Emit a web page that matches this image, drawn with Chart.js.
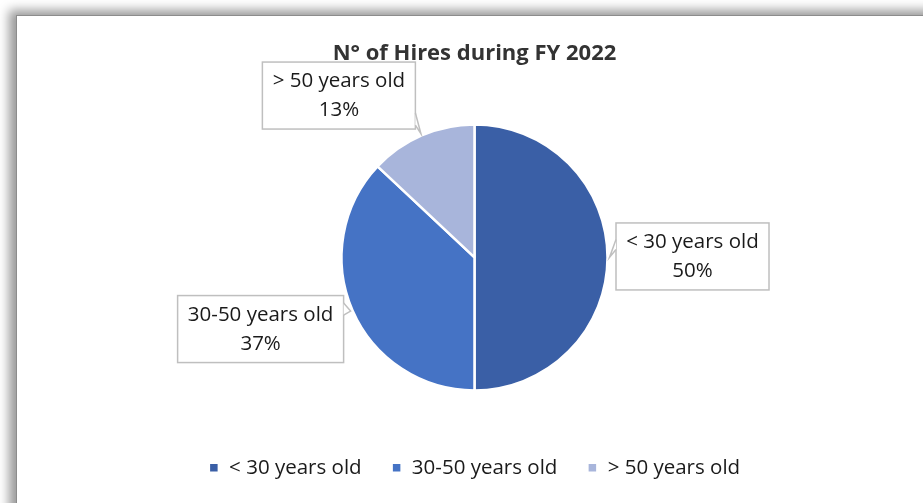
<!DOCTYPE html>
<html>
<head>
<meta charset="utf-8">
<script src="https://cdn.jsdelivr.net/npm/chart.js@4"></script>
<style>
    html, body { margin: 0; padding: 0; background: #ffffff; overflow: hidden; }
    #frame {
        position: absolute; left: 16px; top: 15px; width: 940px; height: 520px;
        background: #ffffff;
        border-left: 1px solid #8c8c8c; border-top: 1px solid #8c8c8c;
        box-shadow: -7px -5px 10px rgba(0,0,0,0.4);
    }
    #wrap { position: absolute; left: 0; top: 0; width: 923px; height: 503px; }
</style>
</head>
<body>
<div id="frame"></div>
<div id="wrap"><canvas id="hires-pie"></canvas></div>
<script>
// Data
const categories = ['< 30 years old', '30-50 years old', '> 50 years old'];
const shares = [50, 37, 13];
const sliceColors = ['#3A5FA6', '#4573C5', '#A8B5DB'];

// callout box centres, relative to the point where each slice meets its label
const calloutOffsets = [[83, -1], [-90, 18], [-82, -38]];
const calloutHeight = 67;

const fontFamily = "'Open Sans', 'Noto Sans', sans-serif";

// Draws the boxed data labels with a small pointer back to the slice
const calloutPlugin = {
    id: 'callouts',
    afterDatasetsDraw(chart) {
        const ctx = chart.ctx;
        const meta = chart.getDatasetMeta(0);
        const total = shares.reduce((a, b) => a + b, 0);

        meta.data.forEach((arc, i) => {
            const mid = (arc.startAngle + arc.endAngle) / 2;
            const tipX = arc.x + Math.cos(mid) * (arc.outerRadius + 2);
            const tipY = arc.y + Math.sin(mid) * (arc.outerRadius + 2);
            const cx = tipX + calloutOffsets[i][0];
            const cy = tipY + calloutOffsets[i][1];

            ctx.save();
            ctx.font = '20.5px ' + fontFamily;
            const w = Math.round(ctx.measureText(categories[i]).width + 20);
            const h = calloutHeight;
            const left = cx - w / 2, top = cy - h / 2;

            // pick the box edge that faces the tip
            let base;
            if (tipX < left) {
                const y0 = Math.min(Math.max(tipY - 18, top + 4), top + h - 16);
                base = [[left, y0], [left, y0 + 10]];
            } else if (tipX > left + w) {
                const y0 = Math.min(Math.max(tipY - 8, top + 4), top + h - 16);
                base = [[left + w, y0], [left + w, y0 + 12]];
            } else {
                const x0 = Math.min(tipX - 60, left + w - 30);
                base = [[x0, top + h], [x0 + 28, top + h]];
            }

            ctx.fillStyle = '#ffffff';
            ctx.strokeStyle = '#bfbfbf';
            ctx.lineWidth = 1.5;
            ctx.fillRect(left, top, w, h);
            ctx.strokeRect(left, top, w, h);

            // pointer
            ctx.beginPath();
            ctx.moveTo(base[0][0], base[0][1]);
            ctx.lineTo(tipX, tipY);
            ctx.lineTo(base[1][0], base[1][1]);
            ctx.closePath();
            ctx.fill();
            ctx.beginPath();
            ctx.moveTo(base[0][0], base[0][1]);
            ctx.lineTo(tipX, tipY);
            ctx.lineTo(base[1][0], base[1][1]);
            ctx.stroke();

            // text
            ctx.fillStyle = '#1a1a1a';
            ctx.textAlign = 'center';
            ctx.textBaseline = 'middle';
            const pct = Math.round(shares[i] / total * 100) + '%';
            ctx.fillText(categories[i], cx, cy - 14);
            ctx.fillText(pct, cx, cy + 15);
            ctx.restore();
        });
    }
};

document.addEventListener('DOMContentLoaded', function() {
    const ctx = document.getElementById('hires-pie').getContext('2d');

    new Chart(ctx, {
        type: 'pie',
        data: {
            labels: categories,
            datasets: [{
                data: shares,
                backgroundColor: sliceColors,
                borderColor: '#ffffff',
                borderWidth: 2.5,
                radius: 133
            }]
        },
        options: {
            responsive: true,
            maintainAspectRatio: false,
            animation: false,
            layout: { padding: { top: 27, bottom: 15, left: 26 } },
            plugins: {
                title: {
                    display: true,
                    text: 'N° of Hires during FY 2022',
                    color: '#333333',
                    font: { family: fontFamily, size: 22, weight: 'bold' },
                    padding: { top: 14, bottom: 20 }
                },
                legend: {
                    position: 'bottom',
                    labels: {
                        color: '#1a1a1a',
                        font: { family: fontFamily, size: 20.5 },
                        boxWidth: 10,
                        boxHeight: 10,
                        padding: 30
                    }
                },
                tooltip: { enabled: false }
            }
        },
        plugins: [calloutPlugin]
    });
});
</script>
</body>
</html>
